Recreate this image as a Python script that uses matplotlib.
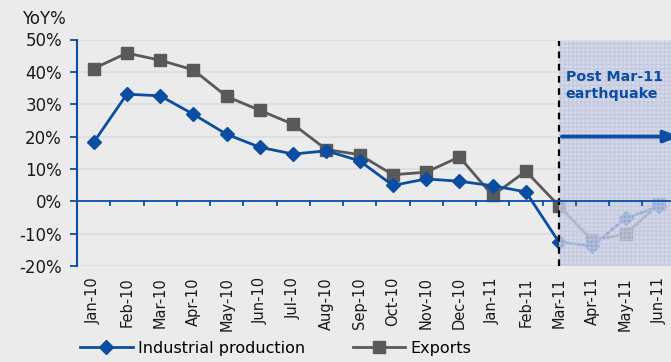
import matplotlib
matplotlib.use("Agg")
import matplotlib.pyplot as plt
from matplotlib.lines import Line2D

categories = ["Jan-10", "Feb-10", "Mar-10", "Apr-10", "May-10", "Jun-10", "Jul-10", "Aug-10",
              "Sep-10", "Oct-10", "Nov-10", "Dec-10", "Jan-11", "Feb-11", "Mar-11", "Apr-11",
              "May-11", "Jun-11"]
industrial = [18.2, 33.1, 32.6, 26.9, 20.7, 16.7, 14.6, 15.6, 12.5, 4.9, 6.9, 6.2, 4.8, 2.9,
              -12.7, -13.7, -5.3, -1.5]
exports = [41.0, 45.8, 43.6, 40.6, 32.4, 28.1, 23.8, 16.0, 14.4, 8.2, 9.0, 13.7, 1.8, 9.3,
           -1.5, -12.1, -10.1, -0.8]
yticks = [-20, -10, 0, 10, 20, 30, 40, 50]
ytick_labels = ["-20%", "-10%", "0%", "10%", "20%", "30%", "40%", "50%"]
quake_idx = 14

BLUE = "#0b4da2"
GREY = "#595959"
BG = "#ebebeb"
TXT = "#1a1a1a"

plt.rcParams['font.family'] = ['DejaVu Sans']

fig = plt.figure(figsize=(6.71, 3.62), dpi=100)
fig.patch.set_facecolor(BG)
ax = fig.add_axes([77/671, 96/362, 598.5/671, 226.5/362])
ax.set_facecolor(BG)

x = list(range(len(categories)))
ax.set_xlim(-0.5, len(categories) - 0.5)
ax.set_ylim(-20, 50)

for v in yticks:
    if v != 0:
        ax.axhline(v, color="#dcdce8", lw=1.2, zorder=0)

ax.plot(x, exports, color=GREY, lw=2.0, marker="s", ms=8.5, zorder=3)
ax.plot(x, industrial, color=BLUE, lw=2.0, marker="D", ms=7, zorder=4)

# shaded post-quake region fades the lines underneath
ax.axvspan(quake_idx, len(categories) - 0.5, ymin=0, ymax=(49.5 + 20) / 70,
           facecolor="#cdd2e7", alpha=0.7, edgecolor="#bfc5df", hatch="++++", lw=0, zorder=5)
ax.plot([quake_idx, quake_idx], [-20, 49.5], color="black", lw=1.6, ls=(0, (3, 2.5)), zorder=6)

ax.axhline(0, color=BLUE, lw=1.3, zorder=6)
for i in range(len(categories) - 1):
    ax.plot([i + 0.5, i + 0.5], [0, -1.3], color=BLUE, lw=1.3, zorder=6, clip_on=False)

ax.annotate("", xy=(len(categories) - 0.3, 20), xytext=(quake_idx, 20),
            arrowprops=dict(arrowstyle="-|>,head_length=0.9,head_width=0.35", color=BLUE, lw=2.8),
            zorder=7, annotation_clip=False)
ax.text(quake_idx + 0.2, 40.5, "Post Mar-11\nearthquake", color=BLUE, fontsize=10.3,
        fontweight="bold", va="top", ha="left", linespacing=1.25, zorder=7)

for s in ["top", "right", "bottom"]:
    ax.spines[s].set_visible(False)
ax.spines["left"].set_color(BLUE)
ax.spines["left"].set_linewidth(1.5)

ax.set_yticks(yticks)
ax.set_yticklabels(ytick_labels, fontsize=12, color=TXT)
ax.tick_params(axis="y", colors=BLUE, length=5, width=1.3, labelcolor=TXT, pad=5.8)
ax.set_xticks(x)
ax.set_xticklabels(categories, rotation=90, fontsize=10.5, color=TXT)
ax.tick_params(axis="x", length=0, pad=8)

fig.text(22/671, 1 - 19/362, "YoY%", fontsize=12, color=TXT, va="center", ha="left")

h1 = Line2D([], [], color=BLUE, lw=2.0, marker="D", ms=7)
h2 = Line2D([], [], color=GREY, lw=2.0, marker="s", ms=8.5)
fig.legend([h1, h2], ["Industrial production", "Exports"], ncol=2, frameon=False,
           loc="center left", bbox_to_anchor=(80/671, 1 - 348/362), fontsize=11.5,
           handlelength=3.3, columnspacing=3.0, handletextpad=0.3, borderpad=0, borderaxespad=0)

fig.savefig("out.png", dpi=100, facecolor=BG)
